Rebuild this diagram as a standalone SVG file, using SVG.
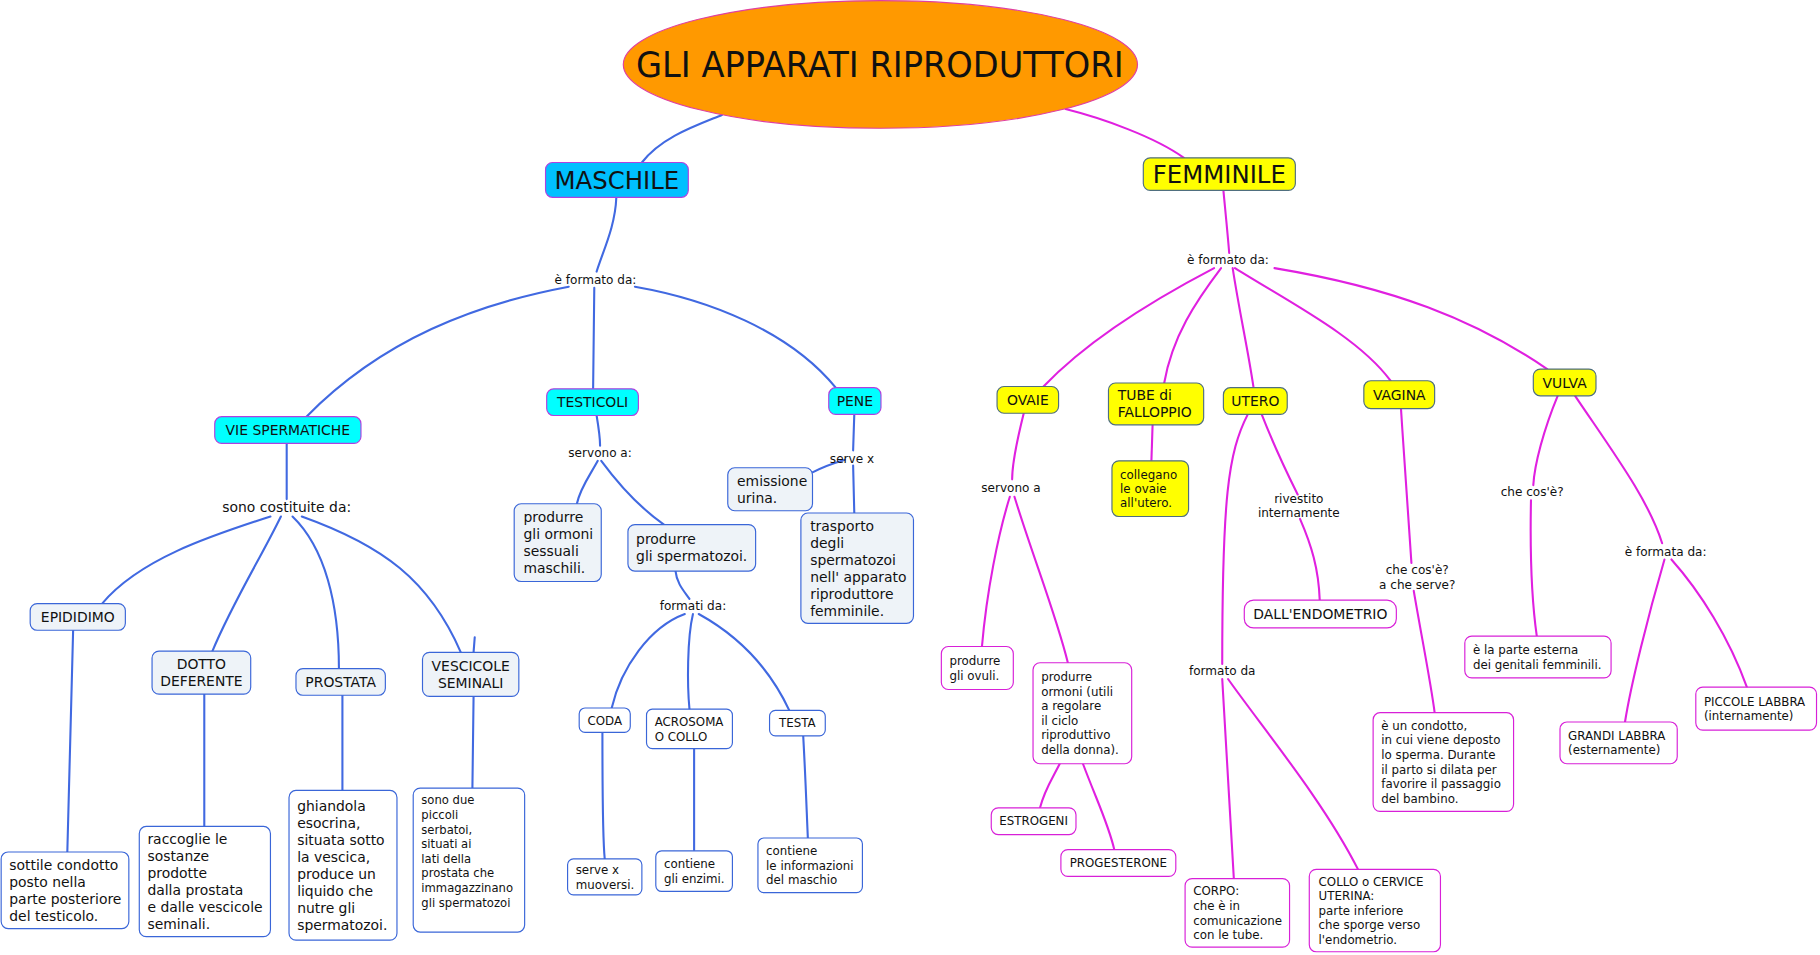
<svg xmlns="http://www.w3.org/2000/svg" width="1820" height="955" viewBox="0 0 1820 955">
<style>
text{font-family:"DejaVu Sans","Verdana",sans-serif;fill:#111}
.cm{fill:none;stroke:#4169E1;stroke-width:1.8;stroke-linecap:round}
.cf{fill:none;stroke:#E020E0;stroke-width:1.8;stroke-linecap:round}
.tc{fill:#00FFFF;stroke:#B040E0;stroke-width:1}
.mb{fill:#EEF3F8;stroke:#3A66D8;stroke-width:1}
.wb{fill:#FFFFFF;stroke:#3A66D8;stroke-width:1}
.yb{fill:#FFFF00;stroke:#4F6F7F;stroke-width:1}
.fb{fill:#FFFFFF;stroke:#D820D8;stroke-width:1}
.t12{font-size:12px}
.t10{font-size:10.2px}
.lb{font-size:10.4px}
.c{text-anchor:middle}
</style>
<rect width="1820" height="955" fill="#FFFFFF"/>
<g transform="scale(1.160714)">
<g id="connectors">
<path class="cm" d="M622,99 C600,108 570,118 553,140"/>
<path class="cf" d="M918,94 C950,102 995,118 1020,136"/>
<path class="cm" d="M531,170 C530,195 520,215 514,234"/>
<path class="cm" d="M490,247 C410,262 330,292 264,359"/>
<path class="cm" d="M512,248 L511,335"/>
<path class="cm" d="M547,247 C610,258 680,285 720,334"/>
<path class="cm" d="M247,382 L247,430"/>
<path class="cm" d="M233,445 C180,462 120,482 88,520"/>
<path class="cm" d="M242,445 C225,480 200,520 183,561"/>
<path class="cm" d="M252,445 C280,472 292,520 292,576"/>
<path class="cm" d="M260,445 C330,470 370,500 397,562"/>
<path class="cm" d="M409,549 L408,562"/>
<path class="cm" d="M63,543 L58,734"/>
<path class="cm" d="M176,598 L176,712"/>
<path class="cm" d="M295,599 L295,681"/>
<path class="cm" d="M408,600 L407,679"/>
<path class="cm" d="M514,358 C516,370 517,378 517,384"/>
<path class="cm" d="M515,397 C508,410 500,420 497,434"/>
<path class="cm" d="M518,397 C535,420 555,440 572,452"/>
<path class="cm" d="M582,492 C583,503 590,510 594,516"/>
<path class="cm" d="M590,529 C560,540 535,575 527,610"/>
<path class="cm" d="M597,529 C592,550 592,590 594,611"/>
<path class="cm" d="M602,529 C640,550 665,580 680,612"/>
<path class="cm" d="M519,631 C519,660 519,720 521,740"/>
<path class="cm" d="M598,645 L598,733"/>
<path class="cm" d="M692,634 C694,670 695,700 696,722"/>
<path class="cm" d="M736,357 L735,388"/>
<path class="cm" d="M735,401 L736,442"/>
<path class="cm" d="M728,396 C718,399 707,403 700,407"/>
<path class="cf" d="M1054,164 C1056,185 1058,205 1059,218"/>
<path class="cf" d="M1046,231 C1000,255 940,290 899,333"/>
<path class="cf" d="M1052,231 C1030,260 1010,290 1003,330"/>
<path class="cf" d="M1062,231 C1068,270 1075,300 1080,334"/>
<path class="cf" d="M1064,231 C1110,260 1170,290 1198,328"/>
<path class="cf" d="M1098,231 C1200,248 1270,275 1333,318"/>
<path class="cf" d="M882,356 C876,380 872,400 872,413"/>
<path class="cf" d="M870,428 C860,460 850,510 846,557"/>
<path class="cf" d="M874,428 C890,480 910,530 920,571"/>
<path class="cf" d="M913,658 C906,672 900,680 896,696"/>
<path class="cf" d="M933,658 C945,690 955,710 960,732"/>
<path class="cf" d="M993,366 L992,397"/>
<path class="cf" d="M1075,357 C1058,390 1053,430 1053,572"/>
<path class="cf" d="M1053,585 L1063,757"/>
<path class="cf" d="M1058,585 C1090,630 1140,690 1170,749"/>
<path class="cf" d="M1087,357 C1098,385 1110,410 1118,426"/>
<path class="cf" d="M1120,447 C1130,470 1136,490 1137,517"/>
<path class="cf" d="M1207,352 C1210,400 1214,450 1216,485"/>
<path class="cf" d="M1218,509 C1225,550 1233,590 1236,614"/>
<path class="cf" d="M1342,341 C1330,370 1322,400 1321,418"/>
<path class="cf" d="M1319,431 C1318,480 1320,520 1324,548"/>
<path class="cf" d="M1357,341 C1390,390 1420,430 1432,468"/>
<path class="cf" d="M1434,482 C1420,530 1405,590 1400,622"/>
<path class="cf" d="M1440,482 C1465,510 1490,550 1505,592"/>
</g>

<g id="labels">
<text class="lb c" x="513" y="244.7">è formato da:</text>
<text class="t12 c" x="247" y="441">sono costituite da:</text>
<text class="lb c" x="517" y="393.7">servono a:</text>
<text class="lb c" x="597" y="525.7">formati da:</text>
<text class="lb c" x="734" y="398.7">serve x</text>
<text class="lb c" x="1058" y="227.7">è formato da:</text>
<text class="lb c" x="871" y="423.7">servono a</text>
<text class="lb c" x="1119" y="433"><tspan x="1119">rivestito</tspan><tspan x="1119" dy="12.6">internamente</tspan></text>
<text class="lb c" x="1221" y="494.5"><tspan x="1221">che cos'è?</tspan><tspan x="1221" dy="12.6">a che serve?</tspan></text>
<text class="lb c" x="1053" y="581.7">formato da</text>
<text class="lb c" x="1320" y="427.7">che cos'è?</text>
<text class="lb c" x="1435" y="478.7">è formata da:</text>
</g>

<g id="title">
<ellipse cx="758.5" cy="55.5" rx="221.5" ry="55" fill="#FF9900" stroke="#E040A0" stroke-width="1"/>
<text class="c" x="758" y="66" font-size="30" textLength="420" lengthAdjust="spacingAndGlyphs">GLI APPARATI RIPRODUTTORI</text>
</g>

<g id="maschile">
<rect x="470" y="140" width="123" height="30" rx="6" fill="#00C0FF" stroke="#B040E0" stroke-width="1"/>
<text class="c" x="531.5" y="163" font-size="21">MASCHILE</text>
</g>
<g id="femminile">
<rect x="985" y="136" width="131" height="28" rx="6" class="yb"/>
<text class="c" x="1050.5" y="158" font-size="21">FEMMINILE</text>
</g>

<g id="testicoli"><rect x="471" y="335" width="79" height="23" rx="6" class="tc"/><text class="t12 c" x="510.5" y="351">TESTICOLI</text></g>
<g id="pene"><rect x="714" y="334" width="45" height="23" rx="6" class="tc"/><text class="t12 c" x="736.5" y="350">PENE</text></g>
<g id="vie-spermatiche"><rect x="185" y="359" width="126" height="23" rx="6" class="tc"/><text class="t12 c" x="248" y="375">VIE SPERMATICHE</text></g>

<g id="epididimo"><rect x="26" y="520" width="82" height="23" rx="6" class="mb"/><text class="t12 c" x="67" y="536">EPIDIDIMO</text></g>
<g id="dotto"><rect x="131" y="561" width="85" height="37" rx="6" class="mb"/><text class="t12 c"><tspan x="173.5" y="576.5">DOTTO</tspan><tspan x="173.5" y="591">DEFERENTE</tspan></text></g>
<g id="prostata"><rect x="255" y="576" width="77" height="23" rx="6" class="mb"/><text class="t12 c" x="293.5" y="592">PROSTATA</text></g>
<g id="vescicole"><rect x="364" y="562" width="83" height="38" rx="6" class="mb"/><text class="t12 c"><tspan x="405.5" y="578">VESCICOLE</tspan><tspan x="405.5" y="592.7">SEMINALI</tspan></text></g>

<g id="sottile"><rect x="1" y="734" width="110" height="66" rx="6" class="wb"/><text class="t12"><tspan x="8" y="749.3">sottile condotto</tspan><tspan x="8" dy="14.65">posto nella</tspan><tspan x="8" dy="14.65">parte posteriore</tspan><tspan x="8" dy="14.65">del testicolo.</tspan></text></g>
<g id="raccoglie"><rect x="120" y="712" width="113" height="95" rx="6" class="wb"/><text class="t12"><tspan x="127" y="727.2">raccoglie le</tspan><tspan x="127" dy="14.65">sostanze</tspan><tspan x="127" dy="14.65">prodotte</tspan><tspan x="127" dy="14.65">dalla prostata</tspan><tspan x="127" dy="14.65">e dalle vescicole</tspan><tspan x="127" dy="14.65">seminali.</tspan></text></g>
<g id="ghiandola"><rect x="249" y="681" width="93" height="129" rx="6" class="wb"/><text class="t12"><tspan x="256" y="699">ghiandola</tspan><tspan x="256" dy="14.65">esocrina,</tspan><tspan x="256" dy="14.65">situata sotto</tspan><tspan x="256" dy="14.65">la vescica,</tspan><tspan x="256" dy="14.65">produce un</tspan><tspan x="256" dy="14.65">liquido che</tspan><tspan x="256" dy="14.65">nutre gli</tspan><tspan x="256" dy="14.65">spermatozoi.</tspan></text></g>
<g id="sono-due"><rect x="356" y="679" width="96" height="124" rx="6" class="wb"/><text font-size="10"><tspan x="363" y="693">sono due</tspan><tspan x="363" dy="12.6">piccoli</tspan><tspan x="363" dy="12.6">serbatoi,</tspan><tspan x="363" dy="12.6">situati ai</tspan><tspan x="363" dy="12.6">lati della</tspan><tspan x="363" dy="12.6">prostata che</tspan><tspan x="363" dy="12.6">immagazzinano</tspan><tspan x="363" dy="12.6">gli spermatozoi</tspan></text></g>

<g id="ormoni-maschili"><rect x="443" y="434" width="75" height="67" rx="6" class="mb"/><text class="t12"><tspan x="451" y="449.8">produrre</tspan><tspan x="451" dy="14.65">gli ormoni</tspan><tspan x="451" dy="14.65">sessuali</tspan><tspan x="451" dy="14.65">maschili.</tspan></text></g>
<g id="spermatozoi"><rect x="541" y="452" width="110" height="40" rx="6" class="mb"/><text class="t12"><tspan x="548" y="469">produrre</tspan><tspan x="548" dy="14.65">gli spermatozoi.</tspan></text></g>
<g id="coda"><rect x="499" y="610" width="44" height="21" rx="5" class="wb"/><text class="t10 c" x="521" y="624.2">CODA</text></g>
<g id="acrosoma"><rect x="557" y="611" width="74" height="34" rx="5" class="wb"/><text class="t10"><tspan x="564" y="625.4">ACROSOMA</tspan><tspan x="564" dy="12.6">O COLLO</tspan></text></g>
<g id="testa"><rect x="663" y="612" width="48" height="22" rx="5" class="wb"/><text class="t10 c" x="687" y="626.7">TESTA</text></g>
<g id="muoversi"><rect x="489" y="740" width="64" height="31" rx="5" class="wb"/><text class="t10"><tspan x="496" y="752.9">serve x</tspan><tspan x="496" dy="12.6">muoversi.</tspan></text></g>
<g id="enzimi"><rect x="565" y="733" width="66" height="35" rx="5" class="wb"/><text class="t10"><tspan x="572" y="747.9">contiene</tspan><tspan x="572" dy="12.6">gli enzimi.</tspan></text></g>
<g id="informazioni"><rect x="653" y="722" width="90" height="47" rx="5" class="wb"/><text class="t10"><tspan x="660" y="736.6">contiene</tspan><tspan x="660" dy="12.6">le informazioni</tspan><tspan x="660" dy="12.6">del maschio</tspan></text></g>
<g id="emissione"><rect x="627" y="403" width="73" height="37" rx="6" class="mb"/><text class="t12"><tspan x="635" y="418.5">emissione</tspan><tspan x="635" dy="14.65">urina.</tspan></text></g>
<g id="trasporto"><rect x="690" y="442" width="97" height="95" rx="6" class="mb"/><text class="t12"><tspan x="698" y="457.2">trasporto</tspan><tspan x="698" dy="14.65">degli</tspan><tspan x="698" dy="14.65">spermatozoi</tspan><tspan x="698" dy="14.65">nell' apparato</tspan><tspan x="698" dy="14.65">riproduttore</tspan><tspan x="698" dy="14.65">femminile.</tspan></text></g>

<g id="ovaie"><rect x="859" y="333" width="53" height="23" rx="6" class="yb"/><text class="t12 c" x="885.5" y="349">OVAIE</text></g>
<g id="tube"><rect x="955" y="330" width="82" height="36" rx="6" class="yb"/><text class="t12"><tspan x="963" y="344.7">TUBE di</tspan><tspan x="963" dy="14.65">FALLOPPIO</tspan></text></g>
<g id="utero"><rect x="1054" y="334" width="55" height="23" rx="6" class="yb"/><text class="t12 c" x="1081.5" y="350">UTERO</text></g>
<g id="vagina"><rect x="1175" y="328" width="61" height="24" rx="6" class="yb"/><text class="t12 c" x="1205.5" y="344.4">VAGINA</text></g>
<g id="vulva"><rect x="1321" y="318" width="54" height="23" rx="6" class="yb"/><text class="t12 c" x="1348" y="334">VULVA</text></g>
<g id="collegano"><rect x="958" y="397" width="66" height="48" rx="6" class="yb"/><text class="t10"><tspan x="965" y="412.3">collegano</tspan><tspan x="965" dy="12.4">le ovaie</tspan><tspan x="965" dy="12.4">all'utero.</tspan></text></g>
<g id="endometrio"><rect x="1072" y="517" width="131" height="24" rx="8" class="fb"/><text class="t12 c" x="1137.5" y="533.3">DALL'ENDOMETRIO</text></g>
<g id="ovuli"><rect x="811" y="557" width="62" height="37" rx="6" class="fb"/><text class="t10"><tspan x="818" y="572.9">produrre</tspan><tspan x="818" dy="12.6">gli ovuli.</tspan></text></g>
<g id="ormoni-donna"><rect x="890" y="571" width="85" height="87" rx="6" class="fb"/><text class="t10"><tspan x="897" y="586.9">produrre</tspan><tspan x="897" dy="12.5">ormoni (utili</tspan><tspan x="897" dy="12.5">a regolare</tspan><tspan x="897" dy="12.5">il ciclo</tspan><tspan x="897" dy="12.5">riproduttivo</tspan><tspan x="897" dy="12.5">della donna).</tspan></text></g>
<g id="estrogeni"><rect x="854" y="696" width="73" height="23" rx="6" class="fb"/><text class="t10 c" x="890.5" y="711.2">ESTROGENI</text></g>
<g id="progesterone"><rect x="914" y="732" width="99" height="23" rx="6" class="fb"/><text class="t10 c" x="963.5" y="747.2">PROGESTERONE</text></g>
<g id="corpo"><rect x="1021" y="757" width="90" height="59" rx="6" class="fb"/><text class="t10"><tspan x="1028" y="771.3">CORPO:</tspan><tspan x="1028" dy="12.6">che è in</tspan><tspan x="1028" dy="12.6">comunicazione</tspan><tspan x="1028" dy="12.6">con le tube.</tspan></text></g>
<g id="collo"><rect x="1128" y="749" width="113" height="71" rx="6" class="fb"/><text class="t10"><tspan x="1136" y="763">COLLO o CERVICE</tspan><tspan x="1136" dy="12.6">UTERINA:</tspan><tspan x="1136" dy="12.6">parte inferiore</tspan><tspan x="1136" dy="12.6">che sporge verso</tspan><tspan x="1136" dy="12.6">l'endometrio.</tspan></text></g>
<g id="condotto"><rect x="1183" y="614" width="121" height="85" rx="6" class="fb"/><text class="t10"><tspan x="1190" y="628.7">è un condotto,</tspan><tspan x="1190" dy="12.6">in cui viene deposto</tspan><tspan x="1190" dy="12.6">lo sperma. Durante</tspan><tspan x="1190" dy="12.6">il parto si dilata per</tspan><tspan x="1190" dy="12.6">favorire il passaggio</tspan><tspan x="1190" dy="12.6">del bambino.</tspan></text></g>
<g id="parte-esterna"><rect x="1262" y="548" width="126" height="36" rx="6" class="fb"/><text class="t10"><tspan x="1269" y="563.4">è la parte esterna</tspan><tspan x="1269" dy="12.6">dei genitali femminili.</tspan></text></g>
<g id="grandi-labbra"><rect x="1344" y="622" width="101" height="36" rx="6" class="fb"/><text class="t10"><tspan x="1351" y="637.4">GRANDI LABBRA</tspan><tspan x="1351" dy="12.6">(esternamente)</tspan></text></g>
<g id="piccole-labbra"><rect x="1461" y="592" width="104" height="37" rx="6" class="fb"/><text class="t10"><tspan x="1468" y="607.9">PICCOLE LABBRA</tspan><tspan x="1468" dy="12.6">(internamente)</tspan></text></g>
</g>
</svg>
